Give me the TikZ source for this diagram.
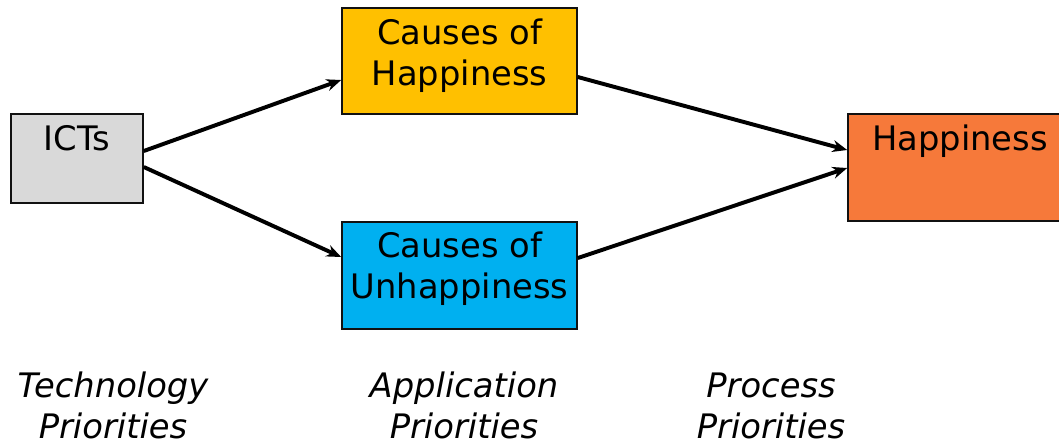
\documentclass[tikz,border=0pt]{standalone}
\usepackage{fontspec}
\setmainfont{DejaVu Sans}
\usetikzlibrary{arrows.meta,calc}
\definecolor{tech}{HTML}{D9D9D9}
\definecolor{good}{HTML}{FFC000}
\definecolor{bad}{HTML}{00B0F0}
\definecolor{happy}{HTML}{F6793A}
\definecolor{ink}{HTML}{111111}
\tikzset{
  >={Stealth[length=10.5pt,width=8.5pt]},
  every node/.style={font=\fontsize{24}{28.5}\selectfont,text=black},
  box/.style={draw=ink,line width=1.1pt,inner sep=0pt,align=center,text height=0.9cm,text depth=1.775cm},
  techbox/.style={box,fill=tech,text depth=1.325cm},
  goodbox/.style={box,fill=good,text height=1.925cm,text depth=0.725cm},
  badbox/.style={box,fill=bad,text height=1.9cm,text depth=0.775cm},
  happybox/.style={box,fill=happy},
  arrow/.style={->,line width=2.8pt,draw=black},
  prio/.style={font=\fontsize{24}{28.5}\selectfont\itshape,align=center,anchor=base},
}
\begin{document}
\begin{tikzpicture}[x=0.025cm,y=-0.025cm]
\useasboundingbox (0,0) rectangle (1059,443);

\node[techbox,minimum width=3.3cm,minimum height=2.225cm] (icts) at (77,158.5) {ICTs};
\node[goodbox,minimum width=5.875cm,minimum height=2.65cm] (goodcause) at (459.5,61) {Causes of\\Happiness};
\node[badbox,minimum width=5.875cm,minimum height=2.675cm] (badcause) at (459.5,275.5) {Causes of\\Unhappiness};
\node[happybox,minimum width=5.6cm,minimum height=2.675cm] (happiness) at (960,167.5) {Happiness};

\draw[arrow] ($(icts.east)+(0,-7.5)$) -- ($(goodcause.west)+(0,19)$);
\draw[arrow] ($(icts.east)+(0,8.5)$) -- ($(badcause.west)+(0,-18.5)$);
\draw[arrow] ($(goodcause.east)+(0,16)$) -- ($(happiness.west)+(0,-17.5)$);
\draw[arrow] ($(badcause.east)+(0,-17.5)$) -- ($(happiness.west)+(0,0.5)$);

\node[prio] (techprio) at (113,438) {Technology\\Priorities};
\node[prio] (appprio) at (464,438) {Application\\Priorities};
\node[prio] (procprio) at (771,438) {Process\\Priorities};

\end{tikzpicture}
\end{document}
